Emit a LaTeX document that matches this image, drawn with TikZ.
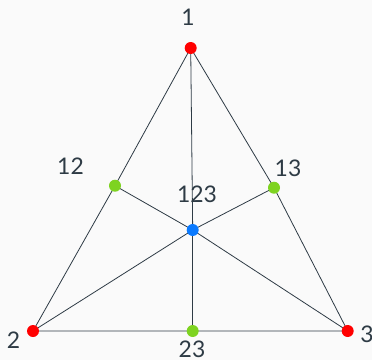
\documentclass[tikz,border=0pt]{standalone}
\usepackage{fontspec}
\setmainfont{Lato}
\usetikzlibrary{positioning,backgrounds}
\definecolor{bgcol}{HTML}{FAFAFA}
\definecolor{inkcol}{HTML}{2E3B45}
\definecolor{ptred}{HTML}{FF0000}
\definecolor{ptgreen}{HTML}{7ED321}
\definecolor{ptblue}{HTML}{0A7AFF}
\tikzset{
  vx/.style={circle,inner sep=0pt,minimum size=12bp},
  vxred/.style={vx,fill=ptred},
  vxgreen/.style={vx,fill=ptgreen},
  vxblue/.style={vx,fill=ptblue},
  sedge/.style={draw=inkcol,line width=0.8bp},
  vlbl/.style={text=inkcol,inner sep=0pt,font=\fontsize{23}{27}\selectfont},
}
\begin{document}
\begin{tikzpicture}[x=1bp,y=-1bp]
  \fill[bgcol] (0,0) rectangle (372,360);
  \useasboundingbox (0,0) rectangle (372,360);
  % points
  \coordinate (p1) at (190.7,48);
  \coordinate (p2) at (33,331);
  \coordinate (p3) at (347.7,331);
  \coordinate (p12) at (115,185.7);
  \coordinate (p13) at (274,187.7);
  \coordinate (p23) at (192.7,331);
  \coordinate (p123) at (192.7,230);
  % subdivision
  \draw[sedge] (p1) -- (p12) -- (p2) -- (p23) -- (p3) -- (p13) -- cycle;
  \foreach \v in {p1,p2,p3,p12,p13,p23}
    \draw[sedge] (p123) -- (\v);
  % dots
  \node[vxred] (v1) at (p1) {};
  \node[vxred] (v2) at (p2) {};
  \node[vxred] (v3) at (p3) {};
  \node[vxgreen] (v12) at (p12) {};
  \node[vxgreen] (v13) at (p13) {};
  \node[vxgreen] (v23) at (p23) {};
  \node[vxblue] (v123) at (p123) {};
  % labels
  \node[vlbl] (l1) at (188,17) {1};
  \node[vlbl] (l2) at (13.5,340) {2};
  \node[vlbl] (l3) at (367,334) {3};
  \node[vlbl] (l12) at (70.5,166) {12};
  \node[vlbl] (l13) at (288,168) {13};
  \node[vlbl] (l23) at (192,349) {23};
  \node[vlbl] (l123) at (197,194) {123};
\end{tikzpicture}
\end{document}
